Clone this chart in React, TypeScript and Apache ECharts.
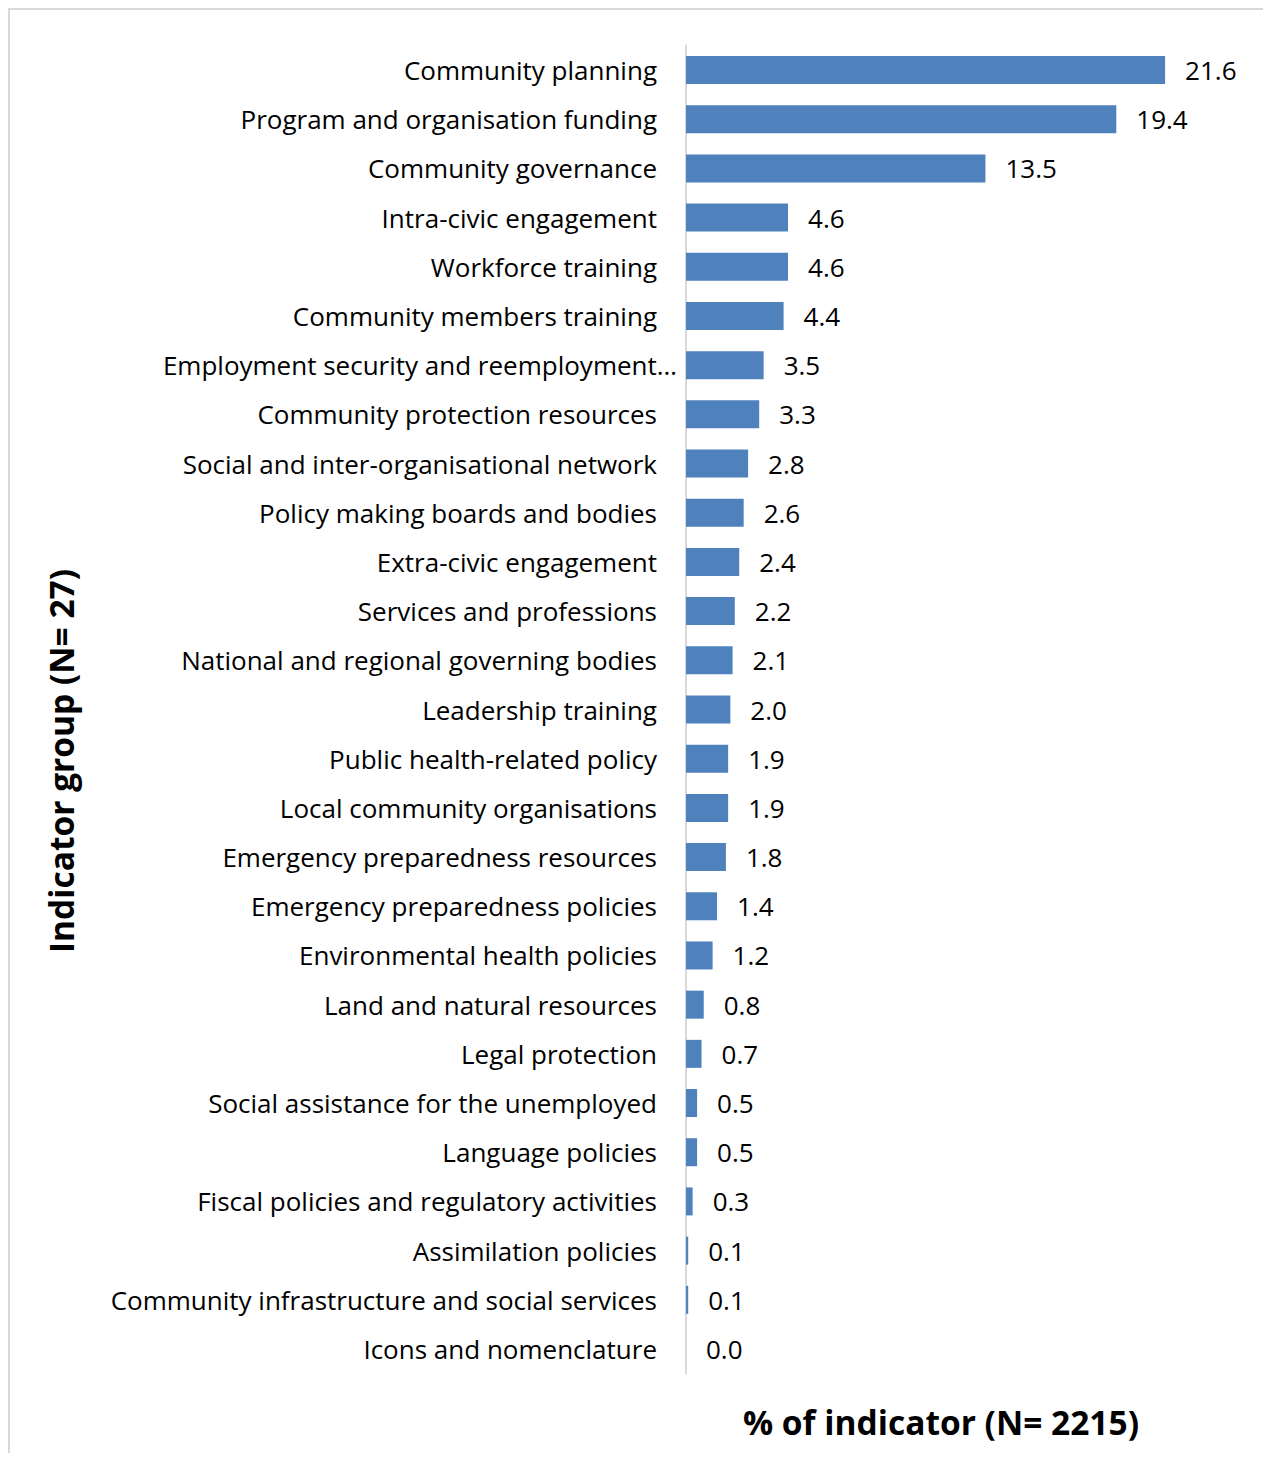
import React, { useEffect, useRef } from "react";
import * as echarts from "echarts";

const categories = [
  "Community planning",
  "Program and organisation funding",
  "Community governance",
  "Intra-civic engagement",
  "Workforce training",
  "Community members training",
  "Employment security and reemployment…",
  "Community protection resources",
  "Social and inter-organisational network",
  "Policy making boards and bodies",
  "Extra-civic engagement",
  "Services and professions",
  "National and regional governing bodies",
  "Leadership training",
  "Public health-related policy",
  "Local community organisations",
  "Emergency preparedness resources",
  "Emergency preparedness policies",
  "Environmental health policies",
  "Land and natural resources",
  "Legal protection",
  "Social assistance for the unemployed",
  "Language policies",
  "Fiscal policies and regulatory activities",
  "Assimilation policies",
  "Community infrastructure and social services",
  "Icons and nomenclature",
];

const values = [
  21.6, 19.4, 13.5, 4.6, 4.6, 4.4, 3.5, 3.3, 2.8, 2.6, 2.4, 2.2, 2.1, 2.0, 1.9,
  1.9, 1.8, 1.4, 1.2, 0.8, 0.7, 0.5, 0.5, 0.3, 0.1, 0.1, 0.0,
];

const yTitle = "Indicator group (N= 27)";
const xTitle = "% of indicator (N= 2215)";

const FONT = "'Open Sans', 'Noto Sans', sans-serif";

export default function App() {
  const ref = useRef<HTMLDivElement>(null);
  useEffect(() => {
    if (!ref.current) return;
    const chart = echarts.init(ref.current, undefined, { renderer: "svg" });
    const yData = categories.map((c) =>
      c.endsWith("…")
        ? { value: c, textStyle: { padding: [0, -20, 0, 0] } }
        : c
    );
    chart.setOption({
      animation: false,
      backgroundColor: "#ffffff",
      grid: { left: 678, right: 8.3, top: 37.4, bottom: 79.4, containLabel: false },
      xAxis: {
        type: "value",
        min: 0,
        max: 26,
        show: false,
      },
      yAxis: {
        type: "category",
        inverse: true,
        data: yData,
        axisLine: { show: true, lineStyle: { color: "#d9d9d9", width: 2 } },
        axisTick: { show: false },
        axisLabel: {
          margin: 29,
          fontSize: 26,
          color: "#000000",
          fontFamily: FONT,
        },
        splitLine: { show: false },
      },
      series: [
        {
          type: "bar",
          data: values,
          barWidth: 28,
          itemStyle: { color: "#4f81bd" },
          label: {
            show: true,
            position: "right",
            distance: 20,
            fontSize: 26,
            color: "#000000",
            fontFamily: FONT,
            formatter: (p: any) => Number(p.value).toFixed(1),
          },
        },
      ],
      graphic: [
        {
          type: "line",
          shape: { x1: 1, y1: 0, x2: 1, y2: 1445 },
          style: { stroke: "#d9d9d9", lineWidth: 2 },
        },
        {
          type: "line",
          shape: { x1: 0, y1: 1, x2: 1263, y2: 1 },
          style: { stroke: "#d9d9d9", lineWidth: 2 },
        },
        {
          type: "text",
          x: 53,
          y: 753,
          rotation: Math.PI / 2,
          style: {
            text: yTitle,
            fontSize: 33.5,
            fontWeight: "bold",
            fontFamily: FONT,
            fill: "#000000",
            align: "center",
            verticalAlign: "middle",
          },
        },
        {
          type: "text",
          x: 933,
          y: 1414,
          style: {
            text: xTitle,
            fontSize: 33.5,
            fontWeight: "bold",
            fontFamily: FONT,
            fill: "#000000",
            align: "center",
            verticalAlign: "middle",
          },
        },
      ],
    });
    return () => chart.dispose();
  }, []);
  return <div ref={ref} style={{ width: 1263, height: 1445 }} />;
}
